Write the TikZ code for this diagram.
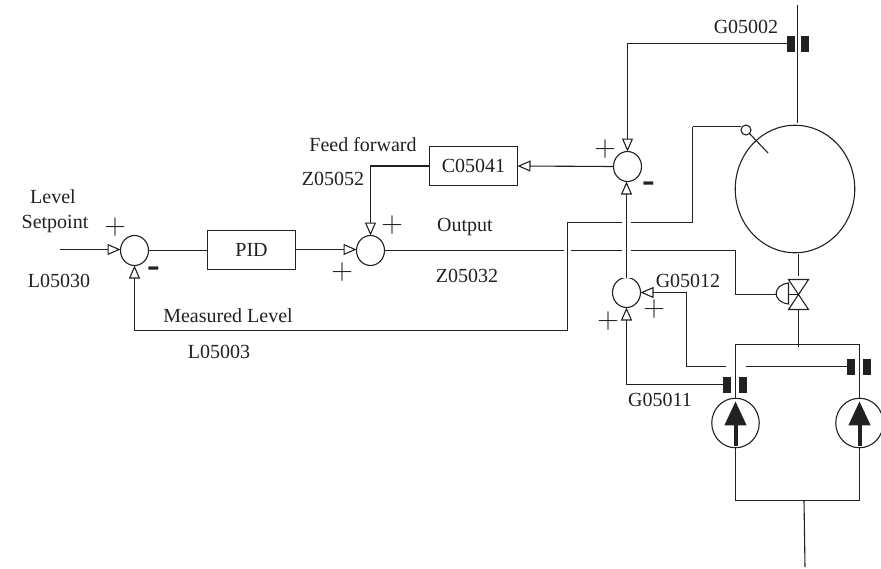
\documentclass[tikz,border=0pt]{standalone}
\usepackage{fontspec}
\setmainfont{Liberation Serif}
\usetikzlibrary{arrows.meta, positioning, shapes.geometric, calc}
\definecolor{inkgrey}{RGB}{35, 32, 32}

\begin{document}
\begin{tikzpicture}[x=1pt, y=-1pt, line width=1.1pt, draw=inkgrey,
        lbl/.style={font=\fontsize{20}{22}\selectfont, text=inkgrey, inner sep=0pt, text height=13pt, text depth=0pt},
        sgn/.style={font=\fontsize{24.88}{26}\selectfont, text=inkgrey, inner sep=0pt, scale=1.2, execute at begin node=$, execute at end node=$},
        neg/.style={font=\fontsize{38}{38}\selectfont\bfseries, text=inkgrey, inner sep=0pt},
        summer/.style={ellipse, draw, minimum width=28pt, minimum height=30pt, inner sep=0pt, outer sep=0pt},
        ctrl/.style={rectangle, draw, minimum width=88pt, minimum height=39pt, inner sep=0pt, outer sep=0pt, lbl},
        pump/.style={ellipse, draw, minimum width=47.5pt, minimum height=49.5pt, inner sep=0pt, outer sep=0pt},
        orifice/.style={rectangle, fill=inkgrey, minimum width=8pt, minimum height=16pt, inner sep=0pt, outer sep=0pt},
        conn/.style={-{Triangle[open, length=13pt, width=11pt]}},
        hop/.style={preaction={draw=white, line width=#1}}
      ]
        \useasboundingbox (0,0) rectangle (881,568);
        % control blocks
        \node[summer] (sumA) at (134.5,250.5) {};
        \node[summer] (sumB) at (370.5,250.5) {};
        \node[summer] (sumC) at (627.5,166.5) {};
        \node[summer] (sumD) at (626.5,292.5) {};
        \node[ctrl] (pid) at (251.5,250) {PID};
        \node[ctrl] (fwd) at (473.5,166) {C05041};
        % plant
        \node[ellipse, draw, minimum width=119.5pt, minimum height=127.5pt, inner sep=0pt, outer sep=0pt] (tank) at (795,189) {};
        \node[circle, draw, minimum size=10pt, inner sep=0pt, outer sep=0pt] (lt) at (746,130) {};
        \node[pump] (pumpA) at (735.5,423) {};
        \node[pump] (pumpB) at (859.5,423) {};
        \node[orifice] (fmT1) at (790.5,43.5) {};
        \node[orifice] (fmT2) at (805,43.5) {};
        \node[orifice] (fmA1) at (727,384.5) {};
        \node[orifice] (fmA2) at (743,384.5) {};
        \node[orifice] (fmB1) at (851,366.5) {};
        \node[orifice] (fmB2) at (867,366.5) {};
        \coordinate (feedin) at (797.5,5);
        \coordinate (setin) at (60,249.5);
        \coordinate (vmid) at (798.5,294.5);
        \coordinate (vbot) at (798.5,309.5);
        \coordinate (actr) at (788.5,294.5);
        \coordinate (hdrA) at (735.5,344.5);
        \coordinate (hdrB) at (859.5,344.5);
        \coordinate (hdrin) at (798.5,347);
        \coordinate (botA) at (735.5,500.5);
        \coordinate (botB) at (859.5,500.5);
        \coordinate (suc) at (804,500.5);
        \coordinate (sucend) at (805,567);
        \coordinate (gapL) at (726,366.5);
        \coordinate (gapR) at (746,366.5);
        % signal lines
        \draw[conn] (setin) -- (sumA.west |- setin);
        \draw (sumA.east) -- (pid.west |- sumA.east);
        \draw[conn] (pid.east |- setin) -- (sumB.west |- setin);
        \draw (sumB.east) -- (735.5,250.5) -- (735.5,294.5) -- (777,294.5);
        \draw[hop=7pt] (692.5,126.5) -- (692.5,222.5) -- (567.5,222.5) -- (567.5,330.5) -- (134.5,330.5);
        \draw (lt.west |- 0,126.5) -- (692.5,126.5);
        \draw[conn] (134.5,330.5) -- (sumA.south);
        \draw[conn] (fwd.west) -| (sumB.north);
        \draw[conn] (sumC.west) -- (fwd.east);
        \draw[conn] (fmT1.west) -| (sumC.north);
        \draw[conn, hop=9pt] (sumD.north) -- (sumD.north |- sumC.south);
        \draw[conn] (gapL) -- (686.5,366.5) -- (686.5,292.5) -- (sumD.east);
        \draw (gapR) -- (fmB1.west);
        \draw[conn] (fmA1.west) -| (sumD.south);
        \draw (lt.south east) -- (768,153);
        % piping
        \draw (feedin) -- (797.5,123);
        \draw (798.5,254) -- (798.5,276);
        \draw (vbot) -- (hdrin);
        \draw (pumpA.north) -- (hdrA) -- (hdrB) -- (pumpB.north);
        \draw (pumpA.south) -- (botA) -- (botB) -- (pumpB.south);
        \draw (suc) -- (sucend);
        \draw (788.5,279.5) -- (808.5,279.5) -- (788.5,309.5) -- (808.5,309.5) -- cycle;
        \draw (788.5,283) .. controls (772,285) and (772,302) .. (788.5,304) -- cycle;
        \draw (actr) -- (vmid);
        \foreach \p in {pumpA, pumpB} {
          \draw[line width=4pt, -{Triangle[length=24pt, width=21pt]}] ($(\p.south)+(0,-2)$) -- ($(\p.north)+(0,3)$);
        }
        % labels
        \node[lbl] (lvl) at (53,197) {Level};
        \node[lbl] (spt) at (55,222) {Setpoint};
        \node[lbl] (l30) at (59,281) {L05030};
        \node[lbl] (mlv) at (228,316) {Measured Level};
        \node[lbl] (l03) at (219,352) {L05003};
        \node[lbl] (ffw) at (363,145) {Feed forward};
        \node[lbl] (z52) at (333,179) {Z05052};
        \node[lbl] (out) at (465,225) {Output};
        \node[lbl] (z32) at (467,276) {Z05032};
        \node[lbl] (g02) at (746,27) {G05002};
        \node[lbl] (g12) at (688,281) {G05012};
        \node[lbl] (g11) at (660,400) {G05011};
        \node[sgn] (pA) at (115,227) {+};
        \node[sgn] (pB) at (392,225) {+};
        \node[sgn] (pC) at (342,272) {+};
        \node[sgn] (pD) at (605,149) {+};
        \node[sgn] (pE) at (654,309) {+};
        \node[sgn] (pF) at (608,321) {+};
        \node[neg] (mA) at (154,272) {-};
        \node[neg] (mB) at (649,187) {-};
      \end{tikzpicture}
\end{document}
